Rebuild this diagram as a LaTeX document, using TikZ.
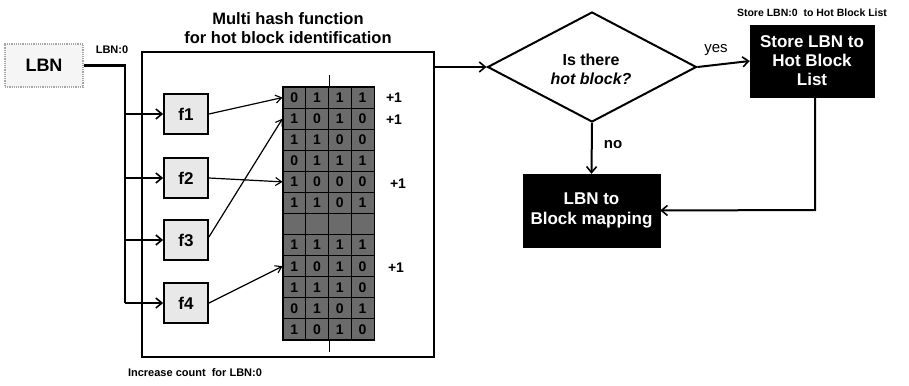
\documentclass[tikz,border=0pt]{standalone}
\usepackage{fontspec}
\setmainfont{Liberation Sans}
\usetikzlibrary{arrows.meta,shapes.geometric,calc}

\begin{document}
\begin{tikzpicture}[x=1pt,y=-1pt,
  every node/.style={font=\bfseries},
  fs/.style={font=\fontsize{#1}{#1}\selectfont\bfseries},
  thick tip/.style={-{Straight Barb[length=6pt,width=10pt,line width=1.6pt]}},
  thin tip/.style={-{Straight Barb[length=6pt,width=8pt,line width=1.1pt]}},
  fbox/.style={draw=black, line width=1.8pt, fill=gray!18, minimum width=44pt, minimum height=40pt, inner sep=0pt, fs=17},
  cell/.style={draw=black, line width=1pt, fill=black!58, minimum width=22.75pt, minimum height=21.08pt, inner sep=0pt},
  digit/.style={fs=14, text=black},
  darkbox/.style={fill=black, draw=black, text=white, align=center, inner sep=0pt},
  conn/.style={line width=2pt},
]
\useasboundingbox (0,0) rectangle (909,385);

% LBN source
\node[draw=gray!70, densely dotted, line width=1.2pt, fill=gray!8, minimum width=78pt, minimum height=43pt, inner sep=0pt, fs=18] (lbn) at (44,65.5) {LBN};
\node[fs=11] (lbnlab) at (112,50) {LBN:0};

% hash function box
\node[draw, line width=1.3pt, minimum width=292pt, minimum height=305pt, inner sep=0pt] (hash) at (288,204.5) {};
\node[fs=16.5, align=center] (title) at (288,28) {Multi hash function\\[2pt]for hot block identification};

% hash functions
\node[fbox] (f1) at (186,114) {f1};
\node[fbox] (f2) at (186,178) {f2};
\node[fbox] (f3) at (186,240) {f3};
\node[fbox] (f4) at (186,303) {f4};

% LBN distribution
\coordinate (split) at (125,65.5);
\draw[line width=2.6pt] (lbn.east) -- (split) -- (split |- f4.west);
\foreach \f in {f1,f2,f3,f4}
  \draw[line width=2.4pt, thick tip] (split |- \f.west) -- (\f.west);

% counter matrix
\foreach \r in {1,...,12}
  \foreach \c in {1,...,4}
    \node[cell] (c\r-\c) at ({283+(\c-0.5)*22.75},{87+(\r-0.5)*21.083}) {};
\draw[line width=1.4pt] (c1-1.north west) rectangle (c12-4.south east);
\foreach \r/\vals in {1/{0,1,1,1},2/{1,0,1,0},3/{1,1,0,0},4/{0,1,1,1},5/{1,0,0,0},6/{1,1,0,1},8/{1,1,1,1},9/{1,0,1,0},10/{1,1,1,0},11/{0,1,0,1},12/{1,0,1,0}}
  \foreach \v [count=\c] in \vals
    \node[digit] at (c\r-\c) {\v};
\draw[line width=0.8pt] (c1-2.north east) -- ++(0,-12);
\draw[line width=0.8pt] (c12-2.south east) -- ++(0,12);

% +1 labels
\node[fs=14] (p1) at (394,98) {+1};
\node[fs=14] (p2) at (394,120) {+1};
\node[fs=14] (p3) at (398,184) {+1};
\node[fs=14] (p4) at (396,268) {+1};

% hash arrows
\draw[line width=1.2pt, thin tip] (f1.east) -- (c1-1.west);
\draw[line width=1.2pt, thin tip] ($(f3.east)+(0,-3)$) -- (c2-1.west);
\draw[line width=1.2pt, thin tip] (f2.east) -- (c5-1.west);
\draw[line width=1.2pt, thin tip] (f4.east) -- (c9-1.west);

\node[fs=11] (inc) at (195,373) {Increase count\ \ for LBN:0};

% decision
\node[draw, shape=diamond, line width=2pt, minimum width=209pt, minimum height=110pt, aspect=1.9, inner sep=0pt] (dia) at (592,67) {};
\node[fs=16, align=center] (diatext) at (591,69) {Is there\\[3pt]\textit{hot block?}};
\draw[conn, thick tip] (hash.east |- dia.west) -- (dia.west);

% store box
\node[darkbox, minimum width=124pt, minimum height=72pt, fs=17] (store) at (812,61) {Store LBN to\\[2pt]Hot Block\\[2pt]List};
\node[fs=10.5] (storelab) at (812,13) {Store LBN:0\ \ to Hot Block List};
\draw[conn, thick tip] (dia.east) -- (store.west);
\node[font=\fontsize{15}{15}\selectfont] (yes) at (716,50) {yes};

% mapping box
\node[darkbox, minimum width=137pt, minimum height=73pt, fs=17] (map) at (591.5,210.5) {LBN to\\[3pt]Block mapping};
\draw[conn, thick tip] (dia.south) -- (map.north);
\node[fs=15] (no) at (613,145) {no};
\draw[conn, thick tip] (store.south -| 815,0) -- (815,210) -- (map.east);
\end{tikzpicture}
\end{document}
